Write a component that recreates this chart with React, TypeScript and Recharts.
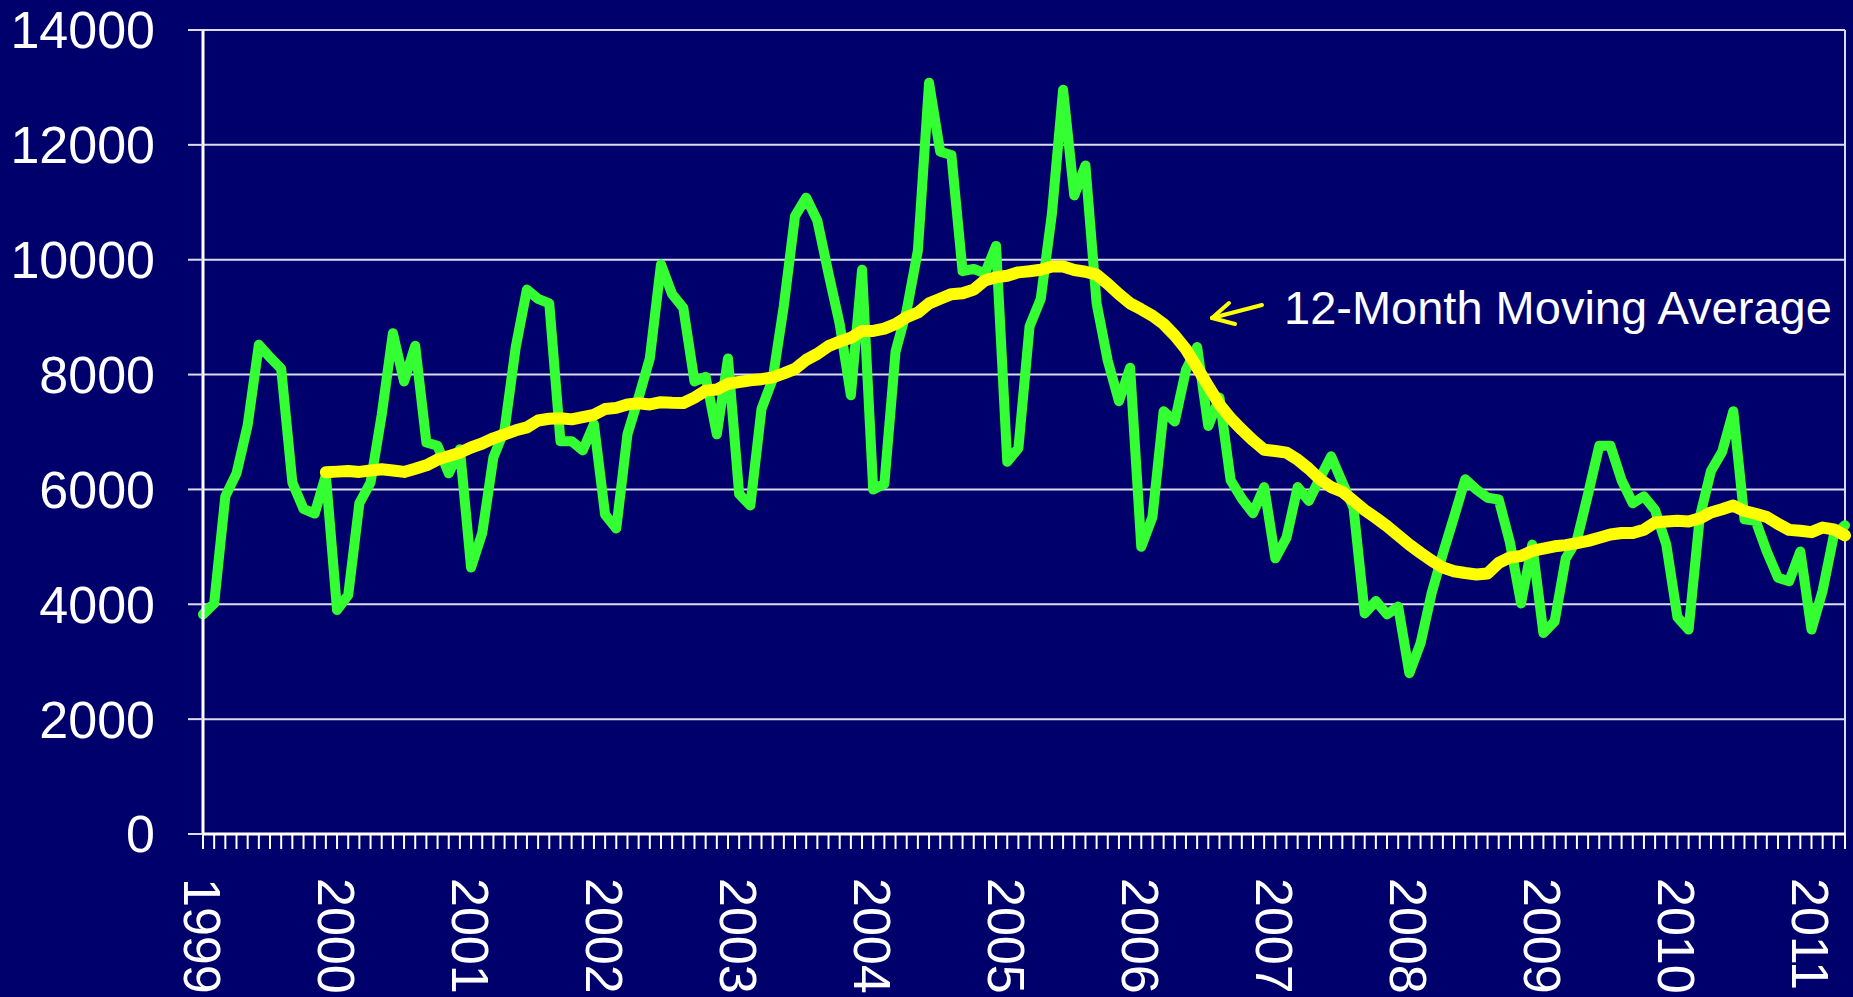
import React from 'react';
import { LineChart, Line, XAxis, YAxis, CartesianGrid, ReferenceLine } from 'recharts';

const years = ['1999','2000','2001','2002','2003','2004','2005','2006','2007','2008','2009','2010','2011'];
const monthCount = 148; // Jan 1999 .. Apr 2011

const yTicks = [0, 2000, 4000, 6000, 8000, 10000, 12000, 14000];

const monthly = [
  3824, 4016, 5880, 6280, 7120, 8520, 8300, 8100, 6120, 5660, 5580, 6250,
  3900, 4160, 5760, 6120, 7300, 8720, 7880, 8500, 6816, 6760, 6280, 6700,
  4640, 5240, 6560, 7040, 8480, 9480, 9320, 9240, 6840, 6840, 6680, 7136,
  5560, 5320, 6960, 7600, 8280, 9920, 9400, 9160, 7880, 7960, 6960, 8280,
  5920, 5720, 7400, 7920, 9200, 10760, 11080, 10680, 9760, 8880, 7640, 9824,
  6000, 6096, 8400, 9120, 10160, 13080, 11880, 11824, 9800, 9840, 9760, 10240,
  6480, 6720, 8840, 9320, 10800, 12960, 11120, 11640, 9240, 8240, 7536, 8120,
  5000, 5520, 7360, 7184, 8080, 8480, 7104, 7600, 6160, 5840, 5584, 6040,
  4800, 5160, 6040, 5800, 6200, 6576, 6120, 5680, 3840, 4056, 3824, 3960,
  2800, 3320, 4200, 4880, 5520, 6176, 6000, 5856, 5824, 5080, 4016, 5040,
  3500, 3700, 4800, 5120, 5920, 6760, 6760, 6160, 5760, 5880, 5640, 5040,
  3776, 3560, 5520, 6320, 6656, 7360, 5480, 5456, 4920, 4464, 4400, 4920,
  3560, 4240, 5200, 5376,
];

const movingAvg: (number | null)[] = [
  null, null, null, null, null, null, null, null, null, null, null, 6300,
  6310, 6320, 6305, 6330, 6350, 6330, 6305, 6360, 6420, 6520, 6580, 6640,
  6730, 6800, 6890, 6960, 7030, 7080, 7200, 7230, 7240, 7220, 7260, 7300,
  7400, 7420, 7480, 7500, 7480, 7520, 7510, 7505, 7600, 7720, 7740, 7840,
  7870, 7900, 7920, 7950, 8020, 8100, 8256, 8360, 8496, 8576, 8640, 8760,
  8760, 8800, 8880, 9000, 9080, 9240, 9320, 9400, 9416, 9480, 9640, 9696,
  9720, 9780, 9800, 9824, 9880, 9880, 9820, 9790, 9740, 9580, 9400, 9240,
  9136, 9024, 8880, 8680, 8440, 8120, 7800, 7480, 7240, 7040, 6856, 6690,
  6670, 6640, 6520, 6360, 6176, 6040, 5960, 5800, 5640, 5504, 5360, 5200,
  5040, 4896, 4760, 4640, 4576, 4544, 4520, 4536, 4720, 4816, 4840, 4930,
  4970, 5010, 5030, 5064, 5104, 5160, 5216, 5240, 5240, 5296, 5424, 5440,
  5456, 5440, 5496, 5600, 5656, 5720, 5624, 5576, 5520, 5400, 5296, 5280,
  5256, 5336, 5304, 5200,
];

const monthLabels: string[] = [];
years.forEach((y) => {
  for (let m = 1; m <= 12; m++) monthLabels.push(`${y}-${m < 10 ? '0' + m : m}`);
});
const categories = monthLabels.slice(0, monthCount);

const data = categories.map((month, i) => ({
  month,
  sales: monthly[i],
  avg: movingAvg[i],
}));

const BG = '#00006c';
const FONT = '"Liberation Sans", Arial, Helvetica, sans-serif';
const GRID = '#dcdcee';

const YearTick = (props: any) => {
  const { x, y, payload } = props;
  const label = String(payload.value);
  if (!label.endsWith('-01')) return <g />;
  return (
    <text
      x={0}
      y={0}
      transform={`translate(${x - 1},${y + 29}) rotate(90)`}
      fill="#ffffff"
      fontSize={52}
      fontFamily={FONT}
      textAnchor="start"
      dominantBaseline="central"
    >
      {label.slice(0, 4)}
    </text>
  );
};

export default function App() {
  return (
    <div style={{ position: 'absolute', left: 0, top: 0, width: 1853, height: 997, background: BG, overflow: 'hidden' }}>
      <LineChart width={1853} height={997} data={data} margin={{ top: 30, right: 8, bottom: 0, left: 0 }}>
        <CartesianGrid horizontal={true} vertical={false} stroke={GRID} strokeWidth={2} />
        <XAxis
          dataKey="month"
          interval={0}
          height={163}
          tickSize={15}
          tickMargin={0}
          tickLine={{ stroke: '#ffffff', strokeWidth: 2 }}
          axisLine={{ stroke: '#ffffff', strokeWidth: 3 }}
          tick={<YearTick />}
        />
        <YAxis
          domain={[0, 14000]}
          ticks={yTicks}
          width={203}
          tickSize={15}
          tickMargin={33}
          tickLine={{ stroke: GRID, strokeWidth: 2 }}
          axisLine={{ stroke: '#ffffff', strokeWidth: 3 }}
          tick={{ fill: '#ffffff', fontSize: 52, fontFamily: FONT }}
          allowDataOverflow
        />
        <ReferenceLine x={categories[categories.length - 1]} stroke={GRID} strokeWidth={2} />
        <Line
          type="linear"
          dataKey="sales"
          stroke="#33ff33"
          strokeWidth={10}
          dot={false}
          activeDot={false}
          strokeLinejoin="round"
          strokeLinecap="round"
          isAnimationActive={false}
        />
        <Line
          type="linear"
          dataKey="avg"
          stroke="#ffff00"
          strokeWidth={12}
          dot={false}
          activeDot={false}
          strokeLinejoin="round"
          strokeLinecap="round"
          connectNulls={false}
          isAnimationActive={false}
        />
      </LineChart>
      <svg width={1853} height={997} style={{ position: 'absolute', left: 0, top: 0, pointerEvents: 'none' }}>
        <g stroke="#ffff00" strokeWidth={4} strokeLinecap="round" fill="none">
          <line x1={1262} y1={305} x2={1212} y2={318} />
          <line x1={1212} y1={318} x2={1229} y2={303} />
          <line x1={1212} y1={318} x2={1235} y2={324} />
        </g>
        <text x={1284} y={324} fill="#ffffff" fontSize={47} fontFamily={FONT}>
          12-Month Moving Average
        </text>
      </svg>
    </div>
  );
}
